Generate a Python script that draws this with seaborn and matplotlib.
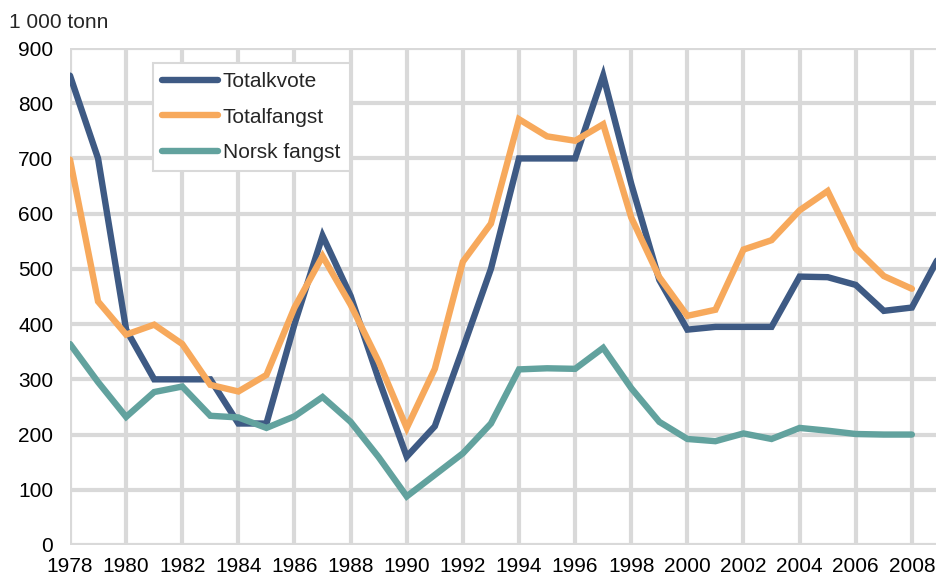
import numpy as np
import pandas as pd
import matplotlib
matplotlib.use("Agg")
import matplotlib.pyplot as plt
import seaborn as sns

years_kvote = list(range(1978, 2010))
totalkvote = [850, 700, 390, 300, 300, 300, 220, 220, 400, 560, 451, 300, 160, 215, 356, 500,
              700, 700, 700, 850, 654, 480, 390, 395, 395, 395, 486, 485, 471, 424, 430, 525]
years_fangst = list(range(1978, 2009))
totalfangst = [698, 441, 381, 399, 364, 290, 278, 308, 430, 523, 435, 332, 212, 319, 513, 582,
               771, 740, 732, 762, 593, 485, 415, 426, 535, 552, 606, 641, 537, 487, 464]
norsk_fangst = [364, 295, 232, 277, 287, 234, 231, 212, 233, 268, 223, 159, 88, 127, 166, 220,
                318, 320, 319, 357, 284, 223, 192, 188, 202, 192, 212, 207, 201, 200, 200]
series_names = ["Totalkvote", "Totalfangst", "Norsk fangst"]
colors = ["#3e5a84", "#f7a95c", "#62a29e"]
x_ticks = list(range(1978, 2009, 2))
y_ticks = list(range(0, 901, 100))

df = pd.concat([
    pd.DataFrame({"År": years_kvote, "Verdi": totalkvote, "Serie": series_names[0]}),
    pd.DataFrame({"År": years_fangst, "Verdi": totalfangst, "Serie": series_names[1]}),
    pd.DataFrame({"År": years_fangst, "Verdi": norsk_fangst, "Serie": series_names[2]}),
], ignore_index=True)

sns.set_theme(style="white")
plt.rcParams["font.family"] = ["Liberation Sans", "DejaVu Sans"]

FS = 15

fig = plt.figure(figsize=(9.36, 5.78), dpi=100)
ax = fig.add_axes([70 / 936, 1 - 545 / 578, 1 - 70 / 936, (545 - 48) / 578])

sns.lineplot(data=df, x="År", y="Verdi", hue="Serie", hue_order=series_names,
             palette=colors, linewidth=4.6, ax=ax, solid_capstyle="round",
             solid_joinstyle="miter", zorder=3)

ax.set_xlim(1978, 2008.86)
ax.set_ylim(0, 900)
ax.set_xticks(x_ticks)
ax.set_yticks(y_ticks)
ax.set_xticklabels([str(t) for t in x_ticks])
ax.set_yticklabels([str(t) for t in y_ticks])
ax.grid(True, color="#d9d9d9", linewidth=3.0, zorder=0)
ax.set_axisbelow(True)
for s in ax.spines.values():
    s.set_visible(False)
ax.tick_params(axis="both", length=0, labelsize=FS, colors="black")
ax.tick_params(axis="y", pad=12)
ax.tick_params(axis="x", pad=9)
ax.set_xlabel("")
ax.set_ylabel("")

fig.text(9 / 936, 1 - 22 / 578, "1 000 tonn", fontsize=FS, va="center", ha="left")

handles, labels = ax.get_legend_handles_labels()
leg = ax.legend(handles, labels, loc="upper left",
                bbox_to_anchor=((153 - 70) / 866, (545 - 63) / 497),
                borderaxespad=0, frameon=True, fancybox=False, fontsize=FS,
                handlelength=2.65, handletextpad=0.25, labelspacing=0.78,
                borderpad=0.45, framealpha=1)
leg.get_frame().set_edgecolor("#d9d9d9")
leg.get_frame().set_linewidth(1.5)
for line in leg.get_lines():
    line.set_linewidth(4.6)
    line.set_solid_capstyle("round")

fig.savefig("out.png", dpi=100)
